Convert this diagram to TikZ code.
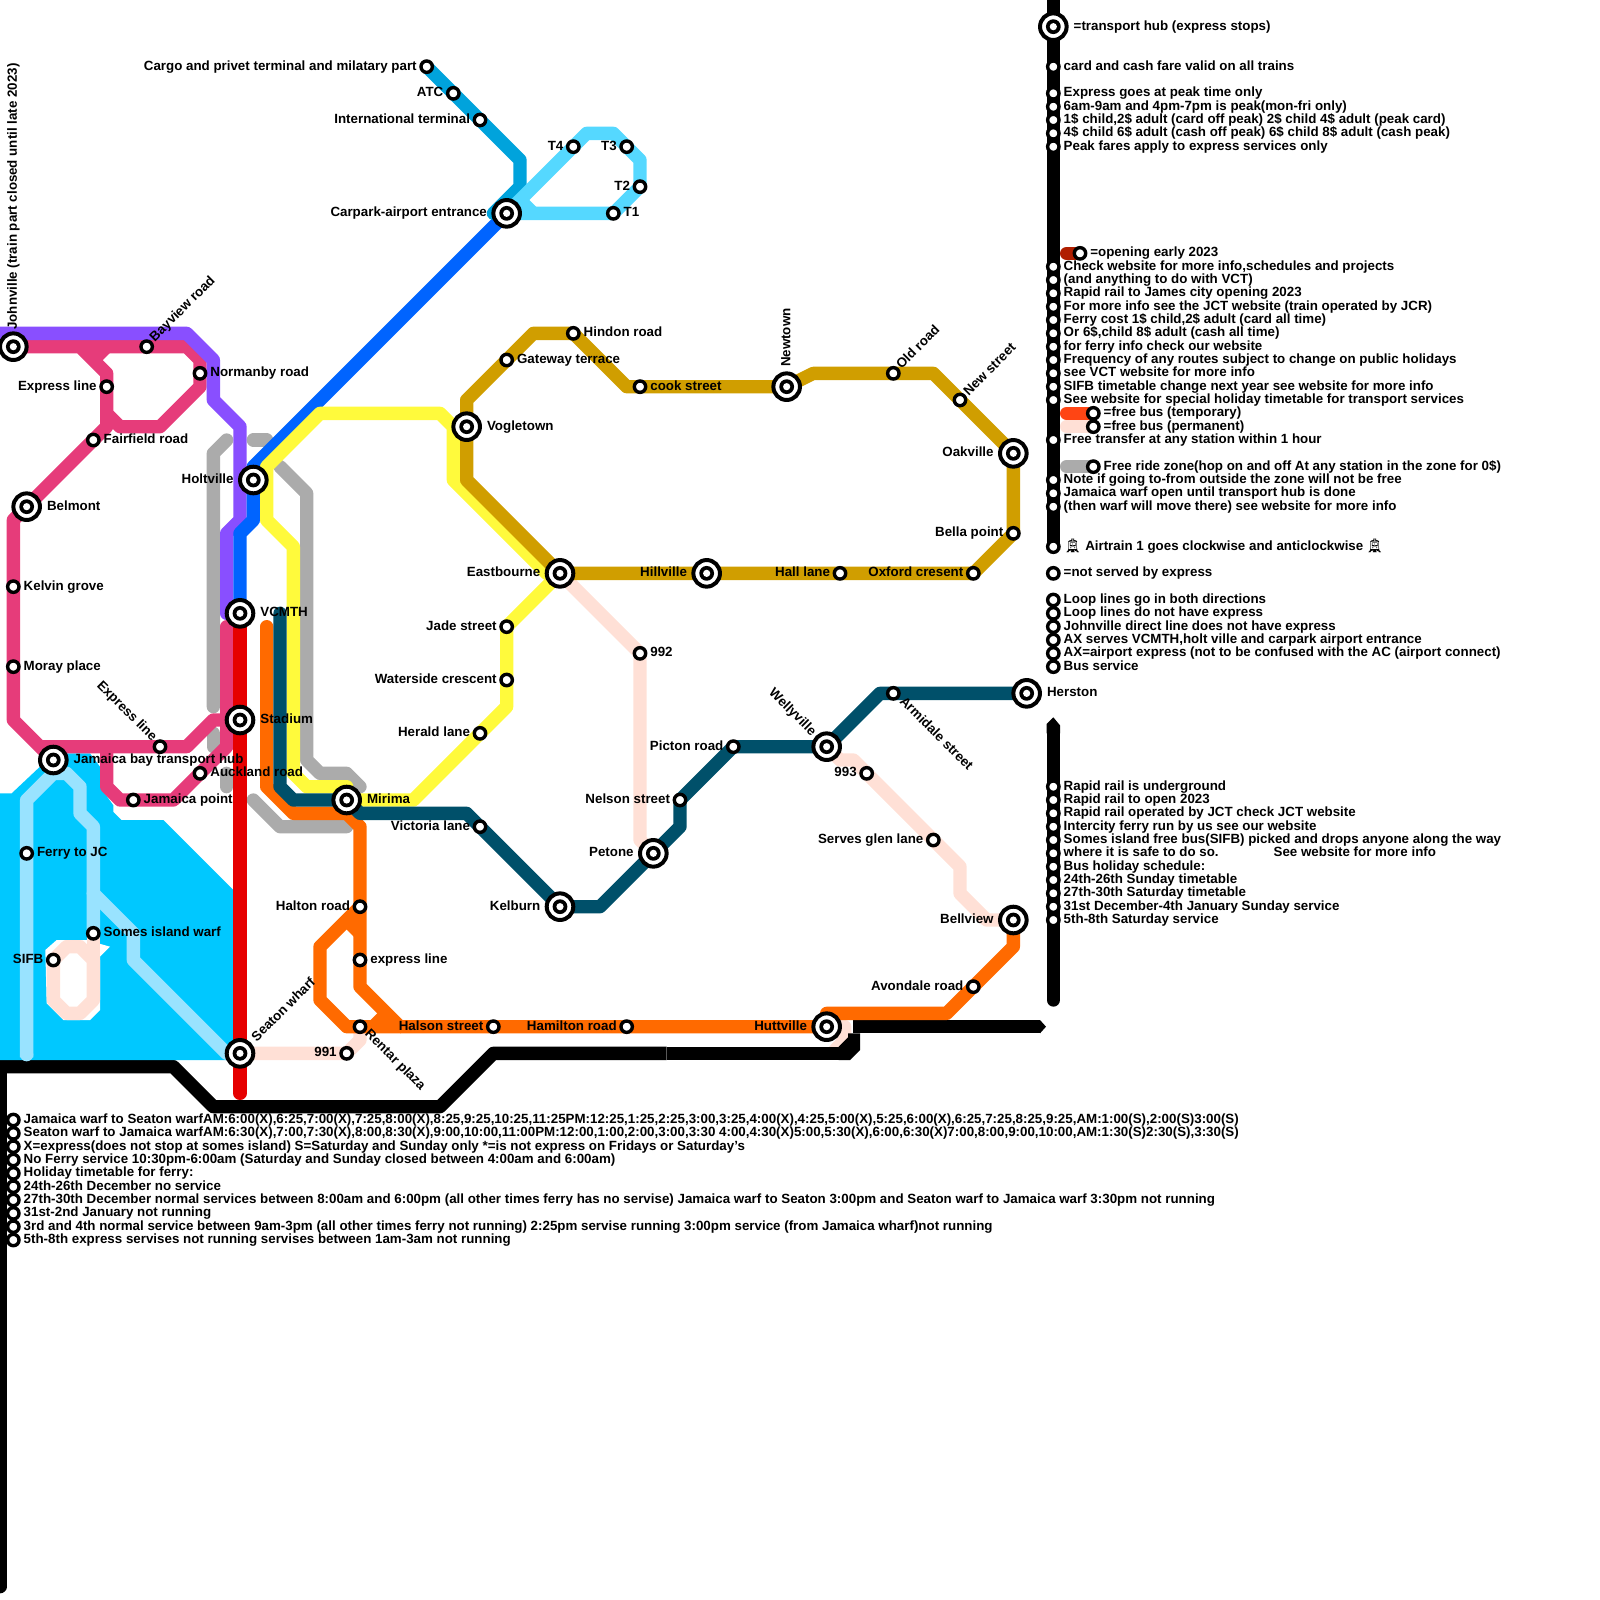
\documentclass[tikz,border=0pt]{standalone}
\usepackage{fontspec}
\setmainfont{Liberation Sans}[BoldFont={Liberation Sans Bold}]
\newfontfamily\emo{Noto Emoji}
\usetikzlibrary{calc}
\pgfdeclarelayer{lines}\pgfsetlayers{lines,main}
\definecolor{cpink}{HTML}{E63C7A}\definecolor{cpurple}{HTML}{894FFF}\definecolor{cblue}{HTML}{0064FF}
\definecolor{cyellow}{HTML}{FFFA3C}\definecolor{cgrey}{HTML}{ABABAB}\definecolor{cgold}{HTML}{D09E00}
\definecolor{cteal}{HTML}{00506A}\definecolor{cair}{HTML}{00A3DC}\definecolor{clight}{HTML}{55D8FF}
\definecolor{cwater}{HTML}{00C8FF}\definecolor{cferry}{HTML}{99E3FF}\definecolor{corange}{HTML}{FF6A00}
\definecolor{cred}{HTML}{E60000}\definecolor{cpale}{HTML}{FFE0D6}\definecolor{cfree}{HTML}{FF4514}\definecolor{cearly}{HTML}{B01E00}
\tikzset{
 st/.style={circle,draw=black,fill=white,line width=1.7pt,minimum size=5.7pt,inner sep=0pt},
 hub/.style={circle,draw=black,fill=white,line width=2pt,minimum size=13.3pt,inner sep=0pt,
  path picture={\fill[black] (path picture bounding box.center) circle (3.7pt);
   \fill[white] (path picture bounding box.center) circle (1.8pt);}},
 lab/.style={font=\bfseries\fontsize{6.67pt}{7pt}\selectfont,inner sep=0pt,text height=4.9pt,text depth=1.3pt},
 rte/.style={line width=6.667pt,line join=round,line cap=round},
 flat/.style={line width=6.667pt,line join=round,line cap=butt},
}
\newcommand{\stn}[3]{\node[st] (#1) at (#2) {};\ifx\relax#3\relax\else\node[lab,anchor=west] (#1-t) at ($(#1)+(.75,0)$) {#3};\fi}
\newcommand{\stl}[3]{\node[st] (#1) at (#2) {};\node[lab,anchor=east] (#1-t) at ($(#1)+(-.72,0)$) {#3};}
\newcommand{\hbr}[3]{\node[hub] (#1) at (#2) {};\ifx\relax#3\relax\else\node[lab,anchor=west] (#1-t) at ($(#1)+(1.5,0)$) {#3};\fi}
\newcommand{\hbl}[3]{\node[hub] (#1) at (#2) {};\node[lab,anchor=east] (#1-t) at ($(#1)+(-1.45,0)$) {#3};}
\newcommand{\rot}[5]{\node[lab,rotate=#2,anchor=#3] (#1-t) at ($(#1)+(#4)$) {#5};}
\newcommand{\leg}[3]{\node[st] (#1) at (79,#2) {};\node[lab,anchor=west] (#1-t) at (79.75,#2) {#3};}
\newcommand{\legb}[3]{\node[st] (#1) at (1,#2) {};\node[lab,anchor=west] (#1-t) at (1.75,#2) {#3};}
\begin{document}
\begin{tikzpicture}[x=6.6667pt,y=-6.6667pt]
\useasboundingbox (0,0) rectangle (120,120);
% stations
\hbr{john}{1,26}{}
\rot{john}{90}{west}{0,-1.25}{Johnville (train part closed until late 2023)}
\stn{bay}{11,26}{}\rot{bay}{45}{west}{.4,-.5}{Bayview road}
\stn{norm}{15,28}{Normanby road}
\stl{expa}{8,29}{Express line}
\stn{fair}{7,33}{Fairfield road}
\hbr{belm}{2,38}{Belmont}
\stn{kelv}{1,44}{Kelvin grove}
\stn{mora}{1,50}{Moray place}
\hbl{holt}{19,36}{Holtville}
\hbr{vcm}{18,46}{VCMTH}
\hbr{stad}{18,54}{Stadium}
\stn{expb}{12,56}{}\rot{expb}{-45}{east}{-.4,-.55}{Express line}
\hbr{jam}{4,57}{Jamaica bay transport hub}
\stn{auck}{15,58}{Auckland road}
\stn{jpt}{10,60}{Jamaica point}
\stn{ferry}{2,64}{Ferry to JC}
\stn{somes}{7,70}{Somes island warf}
\stl{sifb}{4,72}{SIFB}
\hbr{seat}{18,79}{}\rot{seat}{45}{west}{1.05,-1}{Seaton wharf}
\stl{n991}{26,79}{991}
\hbr{mir}{26,60}{Mirima}
\stl{vict}{36,62}{Victoria lane}
\stl{halt}{27,68}{Halton road}
\stn{expc}{27,72}{express line}
\stn{rent}{27,77}{}\rot{rent}{-45}{west}{.5,.4}{Rentar plaza}
\stl{hals}{37,77}{Halson street}
\stl{hami}{47,77}{Hamilton road}
\hbl{hutt}{62,77}{Huttville}
\stl{cargo}{32,5}{Cargo and privet terminal and milatary part}
\stl{atc}{34,7}{ATC}
\stl{intl}{36,9}{International terminal}
\hbl{carp}{38,16}{Carpark-airport entrance}
\stl{tfour}{43,11}{T4}
\stl{tthree}{47,11}{T3}
\stl{ttwo}{48,14}{T2}
\stn{tone}{46,16}{T1}
\hbr{vogl}{35,32}{Vogletown}
\stn{hind}{43,25}{Hindon road}
\stn{gate}{38,27}{Gateway terrace}
\stn{cook}{48,29}{cook street}
\hbr{newt}{59,29}{}\rot{newt}{90}{west}{0,-1.45}{Newtown}
\stn{oldr}{67,28}{}\rot{oldr}{45}{west}{.4,-.45}{Old road}
\stn{news}{72,30}{}\rot{news}{45}{west}{.45,-.45}{New street}
\hbl{oakv}{76,34}{Oakville}
\stl{bella}{76,40}{Bella point}
\stl{oxf}{73,43}{Oxford cresent}
\stl{hall}{63,43}{Hall lane}
\hbl{hill}{53,43}{Hillville}
\hbl{east}{42,43}{Eastbourne}
\stl{jade}{38,47}{Jade street}
\stl{wat}{38,51}{Waterside crescent}
\stl{her}{36,55}{Herald lane}
\stn{nn}{48,49}{992}
\stl{pict}{55,56}{Picton road}
\stl{nels}{51,60}{Nelson street}
\hbl{pet}{49,64}{Petone}
\hbl{kelb}{42,68}{Kelburn}
\hbr{hers}{77,52}{Herston}
\stn{arm}{67,52}{}\rot{arm}{-45}{west}{.6,.45}{Armidale street}
\hbr{well}{62,56}{}\rot{well}{-45}{east}{-.95,-.95}{Wellyville}
\stl{nnt}{65,58}{993}
\stl{serv}{70,63}{Serves glen lane}
\hbl{bellv}{76,69}{Bellview}
\stl{avon}{73,74}{Avondale road}
% legend right
\hbr{lhub}{79,2}{=transport hub (express stops)}
\leg{la}{5}{card and cash fare valid on all trains}
\leg{lb}{7}{Express goes at peak time only}
\leg{lc}{8}{6am-9am and 4pm-7pm is peak(mon-fri only)}
\leg{ld}{9}{1\$ child,2\$ adult (card off peak) 2\$ child 4\$ adult (peak card)}
\leg{le}{10}{4\$ child 6\$ adult (cash off peak) 6\$ child 8\$ adult (cash peak)}
\leg{lf}{11}{Peak fares apply to express services only}
\node[st] (learly) at (81,19) {};\node[lab,anchor=west] (learly-t) at (81.75,19) {=opening early 2023};
\leg{lg}{20}{Check website for more info,schedules and projects}
\leg{lh}{21}{(and anything to do with VCT)}
\leg{li}{22}{Rapid rail to James city opening 2023}
\leg{lj}{23}{For more info see the JCT website (train operated by JCR)}
\leg{lk}{24}{Ferry cost 1\$ child,2\$ adult (card all time)}
\leg{ll}{25}{Or 6\$,child 8\$ adult (cash all time)}
\leg{lm}{26}{for ferry info check our website}
\leg{ln}{27}{Frequency of any routes subject to change on public holidays}
\leg{lo}{28}{see VCT website for more info}
\leg{lp}{29}{SIFB timetable change next year see website for more info}
\leg{lq}{30}{See website for special holiday timetable for transport services}
\node[st] (lfreea) at (82,31) {};\node[lab,anchor=west] (lfreea-t) at (82.75,31) {=free bus (temporary)};
\node[st] (lfreeb) at (82,32) {};\node[lab,anchor=west] (lfreeb-t) at (82.75,32) {=free bus (permanent)};
\leg{lr}{33}{Free transfer at any station within 1 hour}
\node[st] (lzone) at (82,35) {};\node[lab,anchor=west] (lzone-t) at (82.75,35) {Free ride zone(hop on and off At any station in the zone for 0\$)};
\leg{ls}{36}{Note if going to-from outside the zone will not be free}
\leg{lt}{37}{Jamaica warf open until transport hub is done}
\leg{lu}{38}{(then warf will move there) see website for more info}
\leg{lv}{41}{\hspace*{.3pt}{\emo\mdseries 🚊}\hspace{2pt}Airtrain 1 goes clockwise and anticlockwise\hspace{1.5pt}{\emo\mdseries 🚊}}
\leg{lw}{43}{=not served by express}
\leg{lx}{45}{Loop lines go in both directions}
\leg{ly}{46}{Loop lines do not have express}
\leg{lz}{47}{Johnville direct line does not have express}
\leg{ma}{48}{AX serves VCMTH,holt ville and carpark airport entrance}
\leg{mb}{49}{AX=airport express (not to be confused with the AC (airport connect)}
\leg{mc}{50}{Bus service}
\leg{md}{59}{Rapid rail is underground}
\leg{me}{60}{Rapid rail to open 2023}
\leg{mf}{61}{Rapid rail operated by JCT check JCT website}
\leg{mg}{62}{Intercity ferry run by us see our website}
\leg{mh}{63}{Somes island free bus(SIFB) picked and drops anyone along the way}
\leg{mi}{64}{where it is safe to do so.\hspace{27.5pt}See website for more info}
\leg{mj}{65}{Bus holiday schedule:}
\leg{mk}{66}{24th-26th Sunday timetable}
\leg{ml}{67}{27th-30th Saturday timetable}
\leg{mm}{68}{31st December-4th January Sunday service}
\leg{mn}{69}{5th-8th Saturday service}
% legend bottom
\legb{ba}{84}{Jamaica warf to Seaton warfAM:6:00(X),6:25,7:00(X),7:25,8:00(X),8:25,9:25,10:25,11:25PM:12:25,1:25,2:25,3:00,3:25,4:00(X),4:25,5:00(X),5:25,6:00(X),6:25,7:25,8:25,9:25,AM:1:00(S),2:00(S)3:00(S)}
\legb{bb}{85}{Seaton warf to Jamaica warfAM:6:30(X),7:00,7:30(X),8:00,8:30(X),9:00,10:00,11:00PM:12:00,1:00,2:00,3:00,3:30 4:00,4:30(X)5:00,5:30(X),6:00,6:30(X)7:00,8:00,9:00,10:00,AM:1:30(S)2:30(S),3:30(S)}
\legb{bc}{86}{X=express(does not stop at somes island) S=Saturday and Sunday only *=is not express on Fridays or Saturday’s}
\legb{bd}{87}{No Ferry service 10:30pm-6:00am (Saturday and Sunday closed between 4:00am and 6:00am)}
\legb{be}{88}{Holiday timetable for ferry:}
\legb{bf}{89}{24th-26th December no service}
\legb{bg}{90}{27th-30th December normal services between 8:00am and 6:00pm (all other times ferry has no servise) Jamaica warf to Seaton 3:00pm and Seaton warf to Jamaica warf 3:30pm not running}
\legb{bh}{91}{31st-2nd January not running}
\legb{bi}{92}{3rd and 4th normal service between 9am-3pm (all other times ferry not running) 2:25pm servise running 3:00pm service (from Jamaica wharf)not running}
\legb{bj}{93}{5th-8th express servises not running servises between 1am-3am not running}
% lines
\begin{pgfonlayer}{lines}
\draw[flat,black] (-1,80)--(13,80)--(16,83)--(33,83)--(37,79)--(50,79);
\draw[flat,black] (64,77)--(78,77);
\fill[black] (78,76.5)--(78.45,77)--(78,77.5)--cycle;
\draw[rte,black] (0,80)--(0,119);
\fill[cwater] (-1,59.5)--(.875,59.5)--(3,57.5)--(4,56.5)--(6.75,56.5)--(7.5,57.5)--(7.5,59)--(8.5,60.4)--(8.5,60.9)--(9.1,61.5)--(12.25,61.5)--(17.5,66.75)--(18,66.75)--(18,79)--(17,79.5)--(-1,79.5)--cycle;
\fill[white] (3.4,71.25)--(4.25,70.5)--(6.5,70.5)--(8.25,71)--(7.5,71.75)--(7.5,75.75)--(6.75,76.5)--(4.75,76.5)--(3.5,75.25)--cycle;
\draw[flat,cferry] (2,79.3)--(2,60)--(4,58)--(5,58)--(6,59)--(6,61)--(7,62)--(7,70);
\fill[cferry] (2,79.1) circle (.5);
\draw[flat,cferry,line cap=round] (7,67)--(10,70)--(10,72)--(17,79)--(18,79);
\draw[rte,cpale] (5,71)--(6,71)--(7,72)--(7,75)--(6,76)--(5,76)--(4,75)--(4,72)--cycle;
\draw[rte,cpale] (7,70)--(7,72);
\draw[rte,line cap=butt,cpale] (seat.center)--(n991.center)--(27,78)--(rent.center);
\draw[rte,line cap=butt,cpale] (hutt.center)--(63.35,77)--(63.35,78)--(62.4,79);
\draw[flat,black] (50,79)--(63,79);
\fill[black] (62.9,78.5)--(63.6,77.8)--(63.6,77.5)--(64.5,77.5)--(64.5,78.75)--(63.75,79.5)--(62.9,79.5)--cycle;
\draw[rte,cpale] (east.center)--(nn.center)--(48,63)--(pet.center);
\draw[rte,cpale] (well.center)--(63,57)--(64,57)--(nnt.center)--(serv.center)--(72,65)--(72,67)--(74,69)--(bellv.center);
% grey zone
\draw[rte,cgrey] (17,33)--(16,34)--(16,53);
\draw[rte,cgrey] (16,55)--(16,56);
\draw[rte,cgrey] (17,58)--(17,59);
\draw[rte,cgrey] (19,33)--(20,33);
\draw[rte,cgrey] (21,35)--(23,37)--(23,57)--(24,58)--(26,58)--(27,59);
\draw[rte,cgrey] (19,60)--(21,62)--(26,62);
% pink
\draw[flat,cpink] (john.center)--(14,26)--(15,27)--(norm.center)--(15,29)--(12,32)--(9,32)--(8,31)--(expa.center)--(8,28)--(6,26);
\draw[flat,cpink] (8,26)--(7,27);
\draw[flat,cpink] (8,31)--(8,32)--(fair.center)--(belm.center)--(1,39)--(kelv.center)--(mora.center)--(1,54)--(jam.center);
\draw[flat,cpink] (3,56)--(expb.center)--(14,56)--(16,54)--(stad.center);
\draw[rte,cpink] (17,47)--(17,56)--(auck.center)--(13,60)--(jpt.center)--(9,60)--(8,59)--(8,56.5);
% purple
\draw[flat,cpurple] (0,25)--(14,25)--(16,27)--(16,30)--(18,32)--(18,39)--(17,40)--(17,46);
\fill[cpurple] (17,46) circle (.5);
% blue
\draw[flat,cblue] (carp.center)--(19,35)--(holt.center)--(19,39)--(18,40)--(vcm.center);
% air
\draw[flat,cair] (cargo.center)--(atc.center)--(intl.center)--(39,12)--(39,14)--(37,16)--(carp.center);
\draw[flat,clight] (carp.center)--(tfour.center)--(44,10)--(46,10)--(tthree.center)--(48,12)--(ttwo.center)--(tone.center)--cycle;
\draw[flat,clight,line cap=butt] (39,15)--(40,16);
% red
\draw[rte,cred] (vcm.center)--(stad.center)--(seat.center)--(18,82);
% orange
\draw[rte,corange] (20,47)--(20,59)--(22,61)--(26,61)--(27,62)--(halt.center)--(expc.center)--(27,74)--(30,77)--(rent.center)--(26,77)--(24,75)--(24,71)--(halt.center);
\draw[flat,corange] (26,69)--(27,70);
\draw[flat,corange] (29,76)--(28,77);
\draw[flat,corange] (30,77)--(hals.center)--(hami.center)--(hutt.center)--(62,76)--(71,76)--(avon.center)--(76,71)--(bellv.center);
% yellow
\draw[flat,cyellow] (east.center)--(41,43)--(34,36)--(34,32)--(33,31)--(24,31)--(20,35)--(20,39)--(22,41)--(22,58)--(23,59)--(26,59)--(mir.center)--(31,60)--(her.center)--(38,53)--(wat.center)--(jade.center)--(east.center);
% teal
\draw[rte,cteal] (21,46)--(21,59)--(22,60)--(mir.center)--(27,61)--(35,61)--(vict.center)--(kelb.center)--(45,68)--(pet.center)--(51,62)--(nels.center)--(pict.center)--(well.center)--(66,52)--(arm.center)--(hers.center);
% gold
\draw[flat,cgold] (east.center)--(35,36)--(vogl.center)--(35,30)--(40,25)--(hind.center)--(47,29)--(cook.center)--(newt.center)--(61,28)--(oldr.center)--(70,28)--(news.center)--(oakv.center)--(bella.center)--(oxf.center)--(hall.center)--(hill.center)--(east.center);
% legend
\draw[rte,black] (79,-1)--(lv.center);
\draw[rte,black] (79,55)--(79,75);
\fill[black] (78.5,55)--(78.5,54.3)--(79,53.8)--(79.5,54.4)--(79.5,55)--cycle;
\draw[rte,cearly] (80,19)--(learly.center);
\draw[rte,cfree] (80,31)--(lfreea.center);
\draw[rte,cpale] (80,32)--(lfreeb.center);
\draw[rte,cgrey] (80,35)--(lzone.center);
\end{pgfonlayer}
\end{tikzpicture}
\end{document}
